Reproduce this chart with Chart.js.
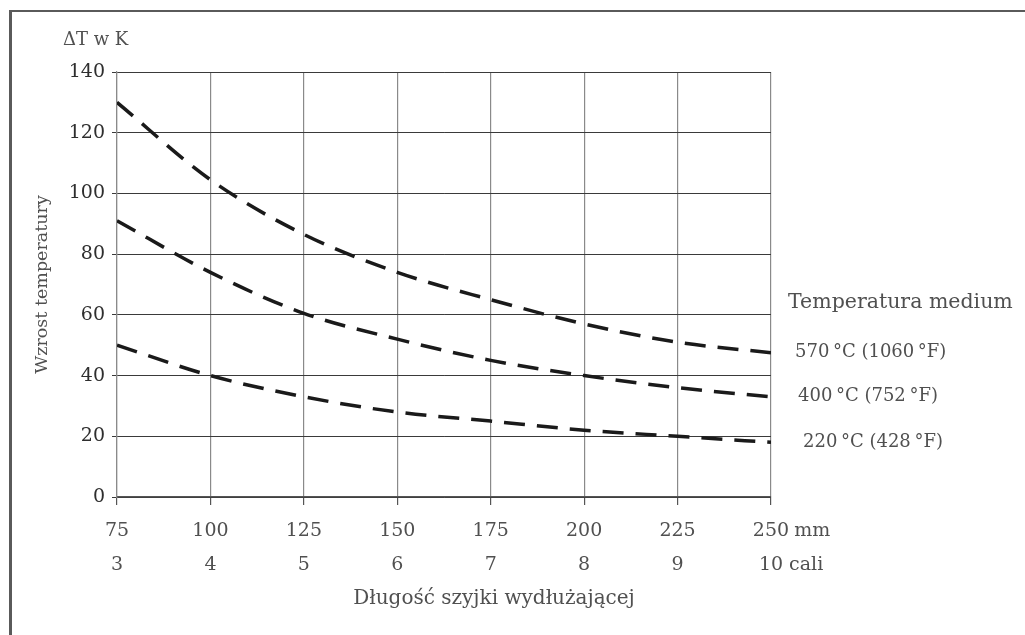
<!DOCTYPE html>
<html>
<head>
<meta charset="utf-8">
<script src="https://cdn.jsdelivr.net/npm/chart.js@4.4.1/dist/chart.umd.min.js"></script>
<style>
  html, body { margin: 0; padding: 0; background: #fff; overflow: hidden; }
  #wrap { position: relative; width: 1025px; height: 635px; }
  #frame { position: absolute; left: 9px; top: 10px; width: 1100px; height: 700px;
           border-left: 3px solid #5a5a5a; border-top: 2px solid #5a5a5a; }
  canvas { position: absolute; left: 0; top: 0; }
</style>
</head>
<body>
<div id="wrap">
  <div id="frame"></div>
  <canvas id="myChart" width="1025" height="635"></canvas>
</div>
<script>
// data
const lengthMm = [75, 100, 125, 150, 175, 200, 225, 250];
const rise570 = [130, 104.5, 86.5, 74, 65, 57, 51, 47.5];
const rise400 = [91, 74, 60.5, 52, 45, 40, 36, 33];
const rise220 = [50, 40, 33, 28, 25, 22, 20, 18];
const mmTicks = [75, 100, 125, 150, 175, 200, 225, 250];
const inchTicks = [3, 4, 5, 6, 7, 8, 9, 10];
const yTicks = [0, 20, 40, 60, 80, 100, 120, 140];
const seriesNames = ['570\u2009°C (1060\u2009°F)', '400\u2009°C (752\u2009°F)', '220\u2009°C (428\u2009°F)'];

const FONT = "'DejaVu Serif', serif";
const TEXT = '#505050';

function line(values, name) {
  return {
    label: name,
    data: lengthMm.map((x, i) => ({ x: x, y: values[i] })),
    borderColor: '#1a1a1a',
    borderWidth: 3.5,
    borderDash: [21, 12],
    pointRadius: 0,
    cubicInterpolationMode: 'monotone',
    fill: false
  };
}

const data = {
  datasets: [
    line(rise570, seriesNames[0]),
    line(rise400, seriesNames[1]),
    line(rise220, seriesNames[2])
  ]
};

// extra texts: units, x title, right side labels
const textPlugin = {
  id: 'texts',
  afterDraw(chart) {
    const ctx = chart.ctx;
    const x = chart.scales.x;
    const xin = chart.scales.xin;
    const y = chart.scales.y;
    const area = chart.chartArea;
    ctx.save();
    ctx.fillStyle = TEXT;
    ctx.textBaseline = 'middle';
    ctx.textAlign = 'left';

    ctx.font = '18px ' + FONT;
    ctx.fillText('ΔT w K', 63, 40);

    // units after last tick labels
    ctx.font = '19px ' + FONT;
    const mmY = x.top + 34, inY = xin.top + 24;
    const wMm = ctx.measureText(String(mmTicks[mmTicks.length - 1])).width;
    const wIn = ctx.measureText(String(inchTicks[inchTicks.length - 1])).width;
    const px = x.getPixelForValue(mmTicks[mmTicks.length - 1]);
    ctx.fillText('mm', px + wMm / 2 + 5, mmY);
    ctx.fillText('cali', px + wIn / 2 + 6, inY);

    ctx.font = '20px ' + FONT;
    ctx.textAlign = 'center';
    ctx.fillText('Długość szyjki wydłużającej', (area.left + area.right) / 2 + 50, 599);

    ctx.textAlign = 'left';
    ctx.font = '20.5px ' + FONT;
    ctx.fillText('Temperatura medium', area.right + 17, y.getPixelForValue(64));
    ctx.font = '18px ' + FONT;
    const ends = [rise570, rise400, rise220];
    const offs = [24, 27, 32];
    ends.forEach((v, i) => {
      ctx.fillText(seriesNames[i], area.right + offs[i], y.getPixelForValue(v[v.length - 1]));
    });
    ctx.restore();
  }
};

const config = {
  type: 'line',
  data: data,
  options: {
    responsive: false,
    animation: false,
    devicePixelRatio: 1,
    layout: { padding: { left: 0, right: 254, top: 72, bottom: 54 } },
    plugins: { legend: { display: false }, tooltip: { enabled: false } },
    scales: {
      x: {
        type: 'linear',
        position: 'bottom',
        weight: 0,
        min: 75,
        max: 250,
        afterBuildTicks: s => { s.ticks = mmTicks.map(v => ({ value: v })); },
        afterFit: s => { s.height = 44; },
        ticks: { font: { family: FONT, size: 19 }, color: TEXT, padding: 15, maxRotation: 0 },
        grid: { color: '#8a8a8a', lineWidth: 1.2, tickLength: 8, tickColor: '#555' },
        border: { color: '#555', width: 1.2 }
      },
      xin: {
        type: 'linear',
        position: 'bottom',
        weight: 1,
        min: 3,
        max: 10,
        afterBuildTicks: s => { s.ticks = inchTicks.map(v => ({ value: v })); },
        afterFit: s => { s.height = 40; },
        ticks: { font: { family: FONT, size: 19 }, color: TEXT, padding: 13, maxRotation: 0 },
        grid: { display: false, drawTicks: false },
        border: { display: false }
      },
      y: {
        min: 0,
        max: 140,
        afterBuildTicks: s => { s.ticks = yTicks.map(v => ({ value: v })); },
        afterFit: s => { s.width = 117; },
        ticks: { font: { family: FONT, size: 19 }, color: '#2e2e2e', padding: 7 },
        grid: { color: '#3a3a3a', lineWidth: 1, tickLength: 5, tickColor: '#3a3a3a' },
        border: { color: '#8a8a8a', width: 1.2 },
        title: {
          display: true,
          text: 'Wzrost temperatury',
          font: { family: FONT, size: 17.5 },
          color: TEXT,
          padding: { top: 32, bottom: 0 }
        }
      }
    }
  },
  plugins: [textPlugin]
};

// render
var myChart = new Chart(document.getElementById('myChart'), config);
</script>
</body>
</html>
